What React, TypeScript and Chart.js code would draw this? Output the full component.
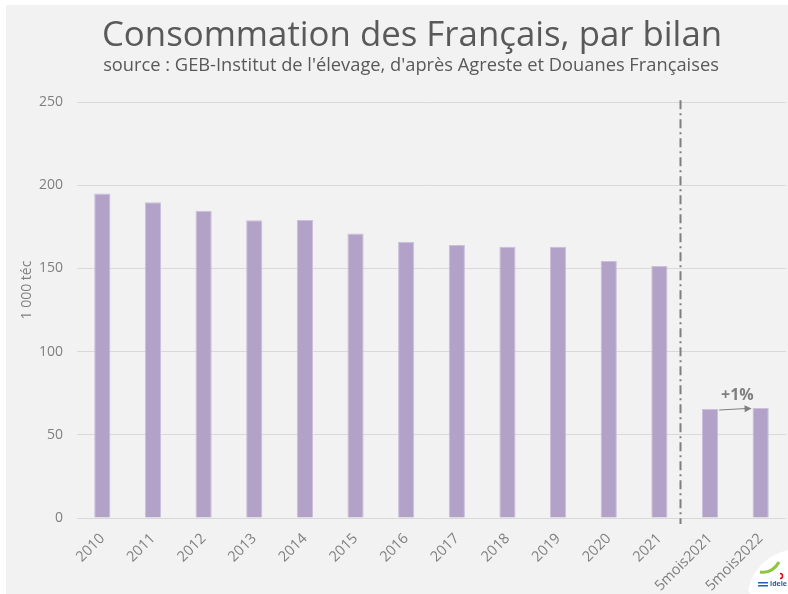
import React, { useEffect, useRef } from "react";
import { Chart, registerables } from "chart.js";

Chart.register(...registerables);

const titleText = "Consommation des Français, par bilan";
const subtitleText = "source : GEB-Institut de l'élevage, d'après Agreste et Douanes Françaises";
const yAxisTitle = "1 000 téc";
const categories = [
  "2010", "2011", "2012", "2013", "2014", "2015", "2016", "2017",
  "2018", "2019", "2020", "2021", "5mois2021", "5mois2022",
];
const values = [195, 189.7, 184.7, 178.9, 179.1, 170.9, 166.0, 164.1, 163.0, 163.0, 154.4, 151.5, 65.5, 66.1];
const yTicks = [0, 50, 100, 150, 200, 250];
const annotationText = "+1%";

const FONT = "'Open Sans', 'DejaVu Sans', sans-serif";

const decorPlugin = {
  id: "decor",
  beforeDraw(chart: any) {
    const ctx = chart.ctx;
    const w = chart.width;
    const h = chart.height;
    ctx.save();
    ctx.fillStyle = "#ffffff";
    ctx.fillRect(0, 0, w, h);
    ctx.fillStyle = "#f2f2f2";
    ctx.fillRect(6, 5, w - 6, h - 5);
    // titles
    ctx.fillStyle = "#595959";
    ctx.textAlign = "center";
    ctx.textBaseline = "middle";
    ctx.font = `34.8px ${FONT}`;
    ctx.fillText(titleText, 412, 36);
    ctx.font = `18.3px ${FONT}`;
    ctx.fillText(subtitleText, 411, 66);
    // y axis title
    ctx.translate(27, 290);
    ctx.rotate(-Math.PI / 2);
    ctx.font = `14px ${FONT}`;
    ctx.fillStyle = "#7f7f7f";
    ctx.fillText(yAxisTitle, 0, 0);
    ctx.restore();
  },
  afterDatasetsDraw(chart: any) {
    const ctx = chart.ctx;
    const xs = chart.scales.x;
    const ys = chart.scales.y;
    const meta = chart.getDatasetMeta(0);
    ctx.save();
    // separator line (dash-dot)
    const p11 = xs.getPixelForValue(11);
    const p12 = xs.getPixelForValue(12);
    const sx = Math.round(p11 + (p12 - p11) * 0.4) + 0.5;
    ctx.strokeStyle = "#7f7f7f";
    ctx.lineWidth = 2;
    ctx.setLineDash([9, 4, 2, 4]);
    ctx.beginPath();
    ctx.moveTo(sx, ys.getPixelForValue(251));
    ctx.lineTo(sx, ys.getPixelForValue(0) + 6);
    ctx.stroke();
    ctx.setLineDash([]);
    // arrow between last two bars
    const b1 = meta.data[12];
    const b2 = meta.data[13];
    const x1 = b1.x + b1.width / 2 + 1;
    const y1 = b1.y + 1;
    const x2 = b2.x - b2.width / 2 - 1;
    const y2 = b2.y + 0.5;
    ctx.strokeStyle = "#7f7f7f";
    ctx.fillStyle = "#7f7f7f";
    ctx.lineWidth = 1.2;
    ctx.beginPath();
    ctx.moveTo(x1, y1);
    ctx.lineTo(x2 - 5, y2);
    ctx.stroke();
    const ang = Math.atan2(y2 - y1, x2 - x1);
    ctx.beginPath();
    ctx.moveTo(x2, y2);
    ctx.lineTo(x2 - 7 * Math.cos(ang) + 3.5 * Math.sin(ang), y2 - 7 * Math.sin(ang) - 3.5 * Math.cos(ang));
    ctx.lineTo(x2 - 7 * Math.cos(ang) - 3.5 * Math.sin(ang), y2 - 7 * Math.sin(ang) + 3.5 * Math.cos(ang));
    ctx.closePath();
    ctx.fill();
    ctx.font = `bold 16px ${FONT}`;
    ctx.textAlign = "center";
    ctx.textBaseline = "middle";
    ctx.fillText(annotationText, (x1 + x2) / 2 + 2, y1 - 15);
    ctx.restore();
  },
  afterDraw(chart: any) {
    const ctx = chart.ctx;
    const w = chart.width;
    const h = chart.height;
    ctx.save();
    // logo badge
    ctx.fillStyle = "#ffffff";
    ctx.beginPath();
    ctx.moveTo(w, h - 44);
    ctx.quadraticCurveTo(w - 32, h - 36, w - 40, h - 4);
    ctx.lineTo(w - 38, h);
    ctx.lineTo(w, h);
    ctx.closePath();
    ctx.fill();
    ctx.strokeStyle = "#8cc63f";
    ctx.lineWidth = 3;
    ctx.beginPath();
    ctx.moveTo(w - 28, h - 22);
    ctx.quadraticCurveTo(w - 16, h - 20, w - 9, h - 32);
    ctx.stroke();
    ctx.strokeStyle = "#e30613";
    ctx.lineWidth = 1.5;
    ctx.beginPath();
    ctx.arc(w - 8, h - 18, 2.5, -Math.PI / 2, Math.PI / 2);
    ctx.stroke();
    ctx.fillStyle = "#2a5caa";
    ctx.font = `bold 7px ${FONT}`;
    ctx.textAlign = "left";
    ctx.textBaseline = "middle";
    ctx.fillText("idele", w - 18, h - 10);
    ctx.fillRect(w - 30, h - 12, 10, 1.5);
    ctx.fillRect(w - 30, h - 9, 10, 1.5);
    ctx.restore();
  },
};

export default function App() {
  const canvasRef = useRef<HTMLCanvasElement | null>(null);

  useEffect(() => {
    const canvas = canvasRef.current;
    if (!canvas) return;
    const chart = new Chart(canvas, {
      type: "bar",
      data: {
        labels: categories,
        datasets: [
          {
            data: values,
            backgroundColor: "#b3a2c7",
            borderColor: "#cbbfdb",
            borderWidth: 1,
            categoryPercentage: 1,
            barPercentage: 0.32,
          },
        ],
      },
      options: {
        responsive: false,
        animation: false,
        layout: { padding: { left: 0, top: 102, right: 2, bottom: 0 } },
        plugins: {
          legend: { display: false },
          tooltip: { enabled: false },
          title: { display: false },
        },
        scales: {
          x: {
            grid: { display: false },
            border: { display: false },
            ticks: {
              color: "#7f7f7f",
              font: { family: FONT, size: 14.5 },
              maxRotation: 45,
              minRotation: 45,
              autoSkip: false,
              padding: 4,
            },
            afterFit: (scale: any) => {
              scale.height = 76;
            },
          },
          y: {
            min: 0,
            max: 250,
            afterBuildTicks: (scale: any) => {
              scale.ticks = yTicks.map((v) => ({ value: v }));
            },
            grid: { color: "#d9d9d9", lineWidth: 1, drawTicks: false },
            border: { display: false },
            ticks: {
              color: "#7f7f7f",
              font: { family: FONT, size: 14 },
              padding: 14,
            },
            afterFit: (scale: any) => {
              scale.width = 77;
            },
          },
        },
      },
      plugins: [decorPlugin],
    });
    return () => chart.destroy();
  }, []);

  return (
    <div style={{ position: "fixed", left: 0, top: 0, width: 788, height: 594 }}>
      <canvas ref={canvasRef} width={788} height={594} style={{ display: "block" }} />
    </div>
  );
}
